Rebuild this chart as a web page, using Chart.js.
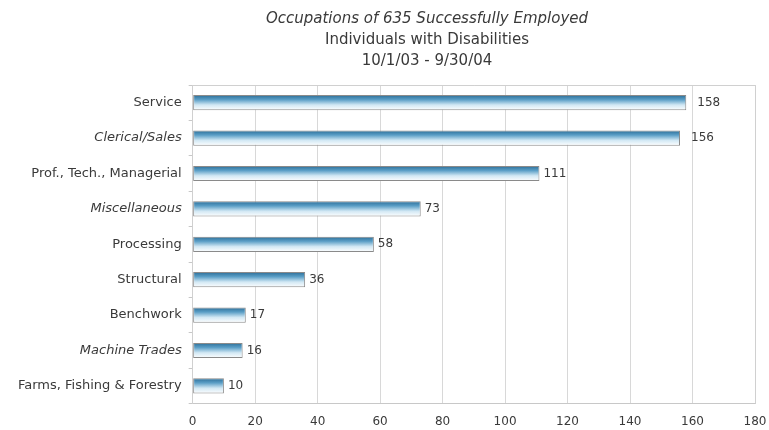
<!DOCTYPE html>
<html>
<head>
<meta charset="utf-8">
<script src="https://cdn.jsdelivr.net/npm/chart.js@4.4.1/dist/chart.umd.min.js"></script>
<style>
  html, body { margin: 0; padding: 0; background: #fff; }
  #wrap { width: 769px; height: 430px; }
</style>
</head>
<body>
<div id="wrap"><canvas id="occupations" width="769" height="430"></canvas></div>
<script>
const categories = [
    "Service",
    "Clerical/Sales",
    "Prof., Tech., Managerial",
    "Miscellaneous",
    "Processing",
    "Structural",
    "Benchwork",
    "Machine Trades",
    "Farms, Fishing & Forestry",
];
const employed = [158, 156, 111, 73, 58, 36, 17, 16, 10];
const xTicks = [0, 20, 40, 60, 80, 100, 120, 140, 160, 180];
const italicLabels = ["Clerical/Sales", "Miscellaneous", "Machine Trades"];
const titleLines = [
    "Occupations of 635 Successfully Employed",
    "Individuals with Disabilities",
    "10/1/03 - 9/30/04",
];

const FONT = "'DejaVu Sans', sans-serif";
const TEXT = "#3a3a3a";
const BAR_PCT = 0.43;

// title (centred a bit right of the canvas like the scan), values, plot frame
const decorations = {
    id: "decorations",
    afterDraw(chart) {
        const ctx = chart.ctx;
        ctx.save();
        ctx.fillStyle = TEXT;
        ctx.textAlign = "center";
        ctx.textBaseline = "middle";
        titleLines.forEach(function (line, i) {
            ctx.font = (i === 0 ? "italic " : "") + "15px " + FONT;
            ctx.fillText(line, 427, 19 + i * 21);
        });
        ctx.restore();
    },
    afterDatasetsDraw(chart) {
        const ctx = chart.ctx;
        const meta = chart.getDatasetMeta(0);
        ctx.save();
        ctx.font = "12px " + FONT;
        ctx.fillStyle = TEXT;
        ctx.textAlign = "left";
        ctx.textBaseline = "middle";
        meta.data.forEach(function (bar, i) {
            const v = chart.data.datasets[0].data[i];
            const gap = v > 150 ? 11 : 4;
            ctx.fillText(String(v), bar.x + gap, bar.y);
        });
        const a = chart.chartArea;
        ctx.strokeStyle = "#d0d0d0";
        ctx.lineWidth = 1;
        ctx.beginPath();
        ctx.moveTo(a.left, a.top + 0.5);
        ctx.lineTo(a.right + 0.5, a.top + 0.5);
        ctx.lineTo(a.right + 0.5, a.bottom);
        ctx.stroke();
        ctx.restore();
    },
};

function barFill(context) {
    const chart = context.chart;
    const y = chart.scales.y;
    if (!chart.chartArea || !y || context.dataIndex === undefined) {
        return "#5c9fc6";
    }
    const cy = y.getPixelForValue(context.dataIndex);
    const half = (y.height / categories.length) * BAR_PCT / 2;
    const g = chart.ctx.createLinearGradient(0, cy - half, 0, cy + half);
    g.addColorStop(0, "#2b6d97");
    g.addColorStop(0.3, "#5a9ec6");
    g.addColorStop(0.65, "#d2e8f4");
    g.addColorStop(1, "#ffffff");
    return g;
}

new Chart(document.getElementById("occupations"), {
    type: "bar",
    data: {
        labels: categories,
        datasets: [
            {
                label: "Employed",
                data: employed,
                backgroundColor: barFill,
                borderColor: "#8a8a8a",
                borderWidth: 1,
                borderSkipped: false,
                barPercentage: BAR_PCT,
                categoryPercentage: 1,
            },
        ],
    },
    options: {
        indexAxis: "y",
        responsive: false,
        animation: false,
        devicePixelRatio: 1,
        layout: {
            padding: { left: 11, right: 0, top: 85, bottom: -10 },
        },
        scales: {
            x: {
                min: 0,
                max: 180,
                afterBuildTicks: function (axis) {
                    axis.ticks = xTicks.map(function (v) { return { value: v }; });
                },
                afterFit: function (axis) {
                    // let the "180" label sit closer to the edge, as in the scan
                    axis.paddingRight = 14;
                },
                grid: {
                    color: "#d8d8d8",
                    drawTicks: false,
                },
                border: { display: true, color: "#c8c8c8" },
                ticks: {
                    color: TEXT,
                    font: { family: FONT, size: 12 },
                    padding: 11,
                    maxRotation: 0,
                },
            },
            y: {
                grid: {
                    display: true,
                    offset: true,
                    drawOnChartArea: false,
                    drawTicks: true,
                    tickLength: 4,
                    color: "#c8c8c8",
                },
                border: { display: true, color: "#d0d0d0" },
                ticks: {
                    color: TEXT,
                    padding: 7,
                    font: function (c) {
                        const lbl = categories[c.index];
                        return {
                            family: FONT,
                            size: 13,
                            style: italicLabels.indexOf(lbl) >= 0 ? "italic" : "normal",
                        };
                    },
                },
            },
        },
        plugins: {
            legend: { display: false },
            tooltip: { enabled: false },
            title: { display: false },
        },
    },
    plugins: [decorations],
});
</script>
</body>
</html>
